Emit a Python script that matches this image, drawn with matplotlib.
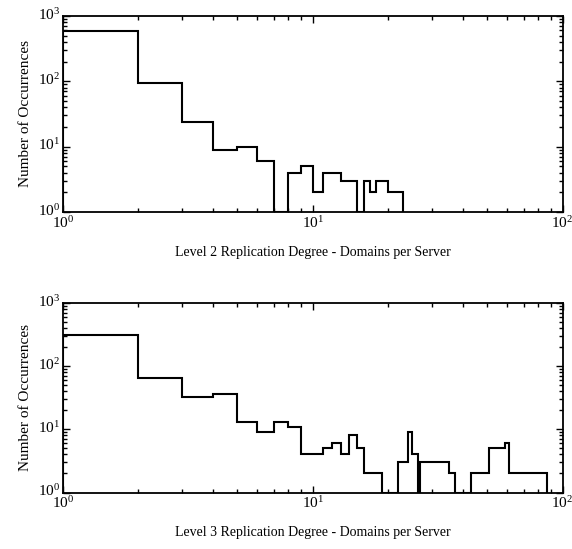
#!/usr/bin/env python3
"""Replication degree histograms (level 2 and level 3), log-log step plots."""

import numpy as np
import matplotlib
matplotlib.use("Agg")
import matplotlib.pyplot as plt
import matplotlib.transforms as mtransforms
from matplotlib.ticker import LogLocator, NullFormatter

plt.rcParams["font.family"] = ["Liberation Serif", "DejaVu Serif"]
plt.rcParams["mathtext.fontset"] = "stix"
plt.rcParams["font.size"] = 10

# Level 2: bin edges (domains per server) and counts
level2_edges = [1, 2, 3, 4, 5, 6, 7, 8, 9, 10, 11, 13, 15, 16, 17, 18, 20, 23]
level2_counts = [580, 95, 24, 9, 10, 6, 0, 4, 5, 2, 4, 3, 0, 3, 2, 3, 2]

# Level 3
level3_edges = [1, 2, 3, 4, 5, 6, 7, 8, 9, 11, 12, 13, 14, 15, 16, 19, 22,
                24, 25, 26.5, 27, 35, 37, 43, 51, 59, 61, 87]
level3_counts = [310, 65, 32, 36, 13, 9, 13, 11, 4, 5, 6, 4, 8, 5, 2, 0,
                 3, 9, 4, 0, 3, 2, 0, 2, 5, 6, 2]

XLABELS = [
    "Level 2 Replication Degree - Domains per Server",
    "Level 3 Replication Degree - Domains per Server",
]


def plot_panel(fig, ax, edges, counts, xlabel):
    """Step histogram on log-log axes; empty bins sit on the 10^0 floor."""
    vals = np.clip(np.asarray(counts, dtype=float), 1, None)
    ax.stairs(vals, edges, baseline=1, color="black", linewidth=1.5)

    ax.set_xscale("log")
    ax.set_yscale("log")
    ax.set_xlim(1, 100)
    ax.set_ylim(1, 1000)

    ax.xaxis.set_major_locator(LogLocator(base=10, numticks=5))
    ax.yaxis.set_major_locator(LogLocator(base=10, numticks=5))
    ax.xaxis.set_minor_locator(LogLocator(base=10, subs=np.arange(2, 10), numticks=20))
    ax.yaxis.set_minor_locator(LogLocator(base=10, subs=np.arange(2, 10), numticks=20))
    ax.xaxis.set_minor_formatter(NullFormatter())
    ax.yaxis.set_minor_formatter(NullFormatter())

    ax.tick_params(which="both", direction="in", top=True, right=True, width=1.0)
    ax.tick_params(which="major", length=5, pad=2, labelsize=11)
    ax.tick_params(which="minor", length=3)
    for sp in ax.spines.values():
        sp.set_linewidth(1.3)

    # nudge y tick labels up a little so 10^0 sits on the axis line
    shift = mtransforms.ScaledTranslation(0, 2 / 72, fig.dpi_scale_trans)
    for lbl in ax.get_yticklabels():
        lbl.set_transform(lbl.get_transform() + shift)

    ax.set_xlabel(xlabel, labelpad=11)
    ax.set_ylabel("Number of Occurrences", fontsize=11, labelpad=4)


def main():
    fig = plt.figure(figsize=(5.72, 5.49), dpi=100)
    ax_top = fig.add_axes([0.1096, 0.6138, 0.8738, 0.3571])
    ax_bot = fig.add_axes([0.1096, 0.1029, 0.8738, 0.3452])

    plot_panel(fig, ax_top, level2_edges, level2_counts, XLABELS[0])
    plot_panel(fig, ax_bot, level3_edges, level3_counts, XLABELS[1])

    fig.savefig("out.png", dpi=100)
    plt.close(fig)


if __name__ == "__main__":
    main()
